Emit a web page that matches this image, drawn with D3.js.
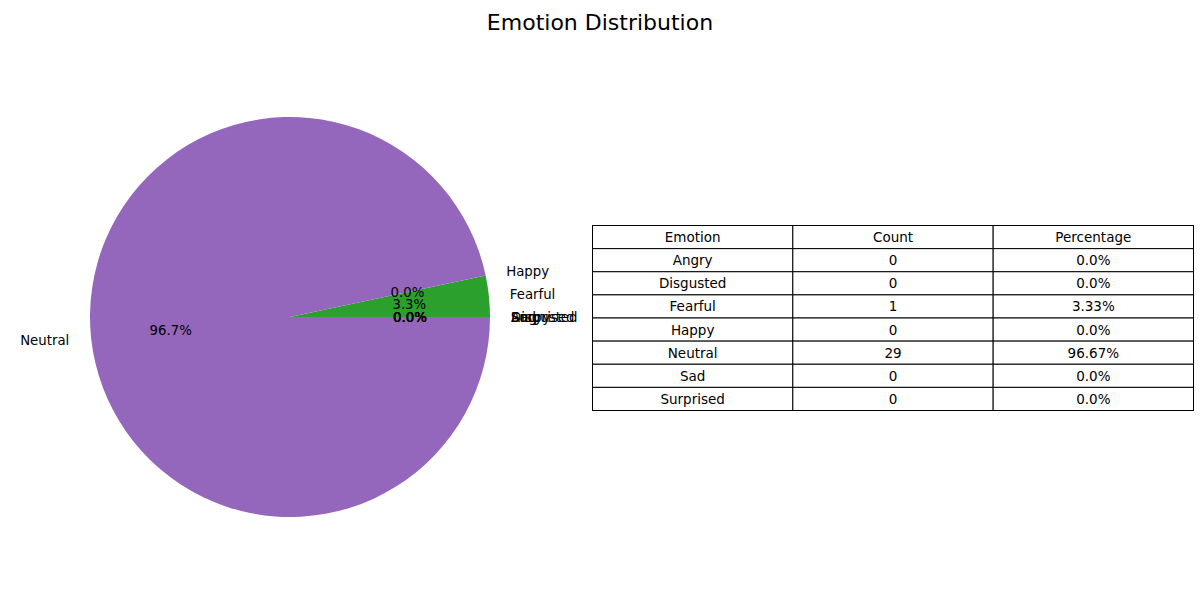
<!DOCTYPE html>
<html>
<head>
<meta charset="utf-8">
<script src="https://cdn.jsdelivr.net/npm/d3@7"></script>
<style>
  body { margin: 0; background: #fff; }
  text { font-family: "DejaVu Sans", sans-serif; fill: #000; }
</style>
</head>
<body>
<svg id="svg"></svg>
<script>
const emotions = ['Angry', 'Disgusted', 'Fearful', 'Happy', 'Neutral', 'Sad', 'Surprised'];
const counts = [0, 0, 1, 0, 29, 0, 0];
const colors = ['#1f77b4', '#ff7f0e', '#2ca02c', '#d62728', '#9467bd', '#8c564b', '#e377c2'];
const tableHeader = ['Emotion', 'Count', 'Percentage'];

const width = 1200;
const height = 600;
const total = d3.sum(counts);

// python-ish round(x, 2) -> str
function pyRound(p) {
  const v = Math.round(p * 100) / 100;
  return Number.isInteger(v) ? v.toFixed(1) : String(v);
}

const svg = d3.select('#svg')
  .attr('width', width)
  .attr('height', height);

svg.append('text')
  .attr('x', 600)
  .attr('y', 22)
  .attr('text-anchor', 'middle')
  .attr('dominant-baseline', 'central')
  .style('font-size', '22px')
  .text('Emotion Distribution');

// pie, matplotlib style: start at 3 o'clock, counterclockwise
const cx = 290, cy = 317, r = 200;
const pie = d3.pie()
  .sort(null)
  .startAngle(Math.PI / 2)
  .endAngle(Math.PI / 2 - 2 * Math.PI);
const slices = pie(counts);

const g = svg.append('g').attr('transform', `translate(${cx},${cy})`);
const arc = d3.arc().innerRadius(0).outerRadius(r);
const labelArc = d3.arc().innerRadius(r * 1.1).outerRadius(r * 1.1);
const pctArc = d3.arc().innerRadius(r * 0.6).outerRadius(r * 0.6);

g.selectAll('path')
  .data(slices)
  .enter()
  .append('path')
  .attr('d', arc)
  .attr('fill', (d, i) => colors[i]);

g.selectAll('text.label')
  .data(slices)
  .enter()
  .append('text')
  .attr('class', 'label')
  .each(function(d, i) {
    const [x, y] = labelArc.centroid(d);
    d3.select(this)
      .attr('x', x > 0.001 ? x + 1 : x - 2)
      .attr('y', y + 0.5)
      .attr('text-anchor', x > 0.001 ? 'start' : 'end')
      .attr('dominant-baseline', 'central')
      .style('font-size', '13.3px')
      .text(emotions[i]);
  });

g.selectAll('text.pct')
  .data(slices)
  .enter()
  .append('text')
  .attr('class', 'pct')
  .each(function(d, i) {
    const [x, y] = pctArc.centroid(d);
    d3.select(this)
      .attr('x', x)
      .attr('y', y + 0.5)
      .attr('text-anchor', 'middle')
      .attr('dominant-baseline', 'central')
      .style('font-size', '13.3px')
      .text((counts[i] / total * 100).toFixed(1) + '%');
  });

// table
const rows = [tableHeader].concat(emotions.map((e, i) => [e, String(counts[i]), pyRound(counts[i] / total * 100) + '%']));

const xScale = d3.scaleBand()
  .domain(d3.range(3))
  .range([592.5, 1193.5]);
const yScale = d3.scaleBand()
  .domain(d3.range(rows.length))
  .range([225.5, 410.5]);

const tg = svg.append('g');
rows.forEach((row, ri) => {
  row.forEach((cell, ci) => {
    tg.append('rect')
      .attr('x', xScale(ci))
      .attr('y', yScale(ri))
      .attr('width', xScale.bandwidth())
      .attr('height', yScale.bandwidth())
      .attr('fill', '#fff')
      .attr('stroke', '#000')
      .attr('stroke-width', 1);
    tg.append('text')
      .attr('x', xScale(ci) + xScale.bandwidth() / 2)
      .attr('y', yScale(ri) + yScale.bandwidth() / 2)
      .attr('text-anchor', 'middle')
      .attr('dominant-baseline', 'central')
      .style('font-size', '13.5px')
      .text(cell);
  });
});
</script>
</body>
</html>
